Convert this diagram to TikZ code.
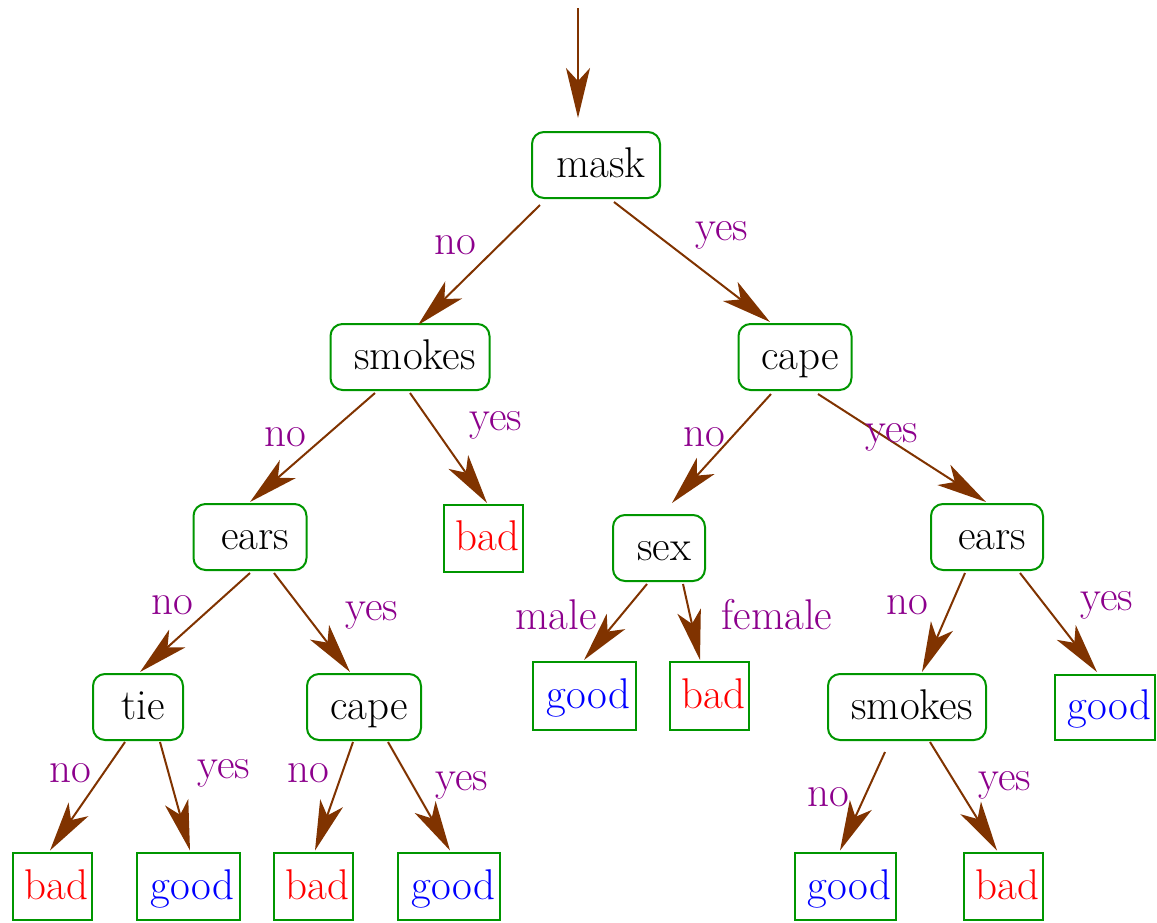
\documentclass[tikz,border=0pt]{standalone}
\usepackage{fontspec}
\usetikzlibrary{arrows.meta,calc}
\definecolor{edgebrown}{RGB}{128,51,0}
\definecolor{boxgreen}{RGB}{0,150,0}
\definecolor{lblpurple}{RGB}{140,0,140}
\begin{document}
\begin{tikzpicture}[x=1pt,y=-1pt,
  every node/.style={font=\rmfamily\fontsize{43}{50}\selectfont, inner sep=0pt},
  test/.style={draw=boxgreen, line width=2pt, rounded corners=12pt,
    minimum height=66pt, text height=27pt, text depth=2pt,
    execute at begin node=\hspace*{10pt}},
  leaf/.style={draw=boxgreen, line width=2pt, minimum height=67pt,
    text height=27pt, text depth=2pt, execute at begin node=\hspace*{9pt}},
  good/.style={leaf, text=blue},
  bad/.style={leaf, text=red},
  edge/.style={draw=edgebrown, line width=2pt,
    -{Stealth[length=50pt,width=24pt,inset=13pt]}},
  lbl/.style={text=lblpurple}]
\useasboundingbox (0,0) rectangle (1157,922);

% decision nodes
\node[test, minimum width=128pt] (mask)    at (596,165) {mask};
\node[test, minimum width=159pt] (smokesL) at (410,357) {smokes};
\node[test, minimum width=113pt] (capeT)   at (795,357) {cape};
\node[test, minimum width=113pt] (earsL)   at (250,537) {ears};
\node[test, minimum width=92pt]  (sex)     at (659,548) {sex};
\node[test, minimum width=112pt] (earsR)   at (987,537) {ears};
\node[test, minimum width=90pt]  (tie)     at (138,707) {tie};
\node[test, minimum width=114pt] (capeL)   at (364,707) {cape};
\node[test, minimum width=158pt] (smokesR) at (907,707) {smokes};

% leaves
\node[bad,  minimum width=79pt]  (badA)  at (483,538) {bad};
\node[good, minimum width=103pt, minimum height=68pt] (goodS) at (584,696) {good};
\node[bad,  minimum width=79pt,  minimum height=68pt] (badS)  at (709,696) {bad};
\node[good, minimum width=100pt, minimum height=65pt] (goodR) at (1105,707) {good};
\node[bad,  minimum width=79pt]  (bad1)  at (52,886.5)  {bad};
\node[good, minimum width=103pt] (good1) at (188,886.5) {good};
\node[bad,  minimum width=79pt]  (bad2)  at (313,886.5) {bad};
\node[good, minimum width=102pt] (good2) at (449,886.5) {good};
\node[good, minimum width=101pt] (good3) at (845,886.5) {good};
\node[bad,  minimum width=79pt]  (bad3)  at (1003,886.5) {bad};

% entry arrow
\coordinate (entry) at (578,8);
\draw[edge] (entry) -- ($(mask)+(-18,-47)$);

% branches
\draw[edge] ($(mask)+(-56,40)$)    -- ($(smokesL)+(8,-32)$);
\draw[edge] ($(mask)+(18,37)$)     -- ($(capeT)+(-25,-35)$);
\draw[edge] ($(smokesL)+(-35,36)$) -- ($(earsL)+(0,-35)$);
\draw[edge] ($(smokesL)+(0,36)$)   -- ($(badA)+(4,-35)$);
\draw[edge] ($(capeT)+(-24,37)$)   -- ($(sex)+(13,-45)$);
\draw[edge] ($(capeT)+(23,37)$)    -- ($(earsR)+(-1,-35)$);
\draw[edge] ($(earsL)+(0,36)$)     -- ($(tie)+(2,-35)$);
\draw[edge] ($(earsL)+(24,36)$)    -- ($(capeL)+(-14,-35)$);
\draw[edge] ($(sex)+(-12,36)$)     -- ($(goodS)+(0,-36)$);
\draw[edge] ($(sex)+(24,36)$)      -- ($(badS)+(-9,-36)$);
\draw[edge] ($(earsR)+(-22,36)$)   -- ($(smokesR)+(15,-35)$);
\draw[edge] ($(earsR)+(33,36)$)    -- ($(goodR)+(-8,-35)$);
\draw[edge] ($(tie)+(-13,35)$)     -- ($(bad1)+(-2,-36)$);
\draw[edge] ($(tie)+(22,35)$)      -- ($(good1)+(2,-36)$);
\draw[edge] ($(capeL)+(-11,35)$)   -- ($(bad2)+(2,-36)$);
\draw[edge] ($(capeL)+(24,35)$)    -- ($(good2)+(1,-36)$);
\draw[edge] ($(smokesR)+(-22,45)$) -- ($(good3)+(-5,-36)$);
\draw[edge] ($(smokesR)+(23,35)$)  -- ($(bad3)+(-6,-36)$);

% branch labels
\node[lbl] (l1)  at (455,245)  {no};
\node[lbl] (l2)  at (722,235)  {yes};
\node[lbl] (l3)  at (285,437)  {no};
\node[lbl] (l4)  at (496,425)  {yes};
\node[lbl] (l5)  at (704,437)  {no};
\node[lbl] (l6)  at (892,437)  {yes};
\node[lbl] (l7)  at (172,605)  {no};
\node[lbl] (l8)  at (372,615)  {yes};
\node[lbl] (l9)  at (556,615)  {male};
\node[lbl] (l10) at (777,615)  {female};
\node[lbl] (l11) at (907,605)  {no};
\node[lbl] (l12) at (1107,605) {yes};
\node[lbl] (l13) at (70,773)   {no};
\node[lbl] (l14) at (224,773)  {yes};
\node[lbl] (l15) at (308,773)  {no};
\node[lbl] (l16) at (462,785)  {yes};
\node[lbl] (l17) at (828,797)  {no};
\node[lbl] (l18) at (1005,785) {yes};
\end{tikzpicture}
\end{document}
